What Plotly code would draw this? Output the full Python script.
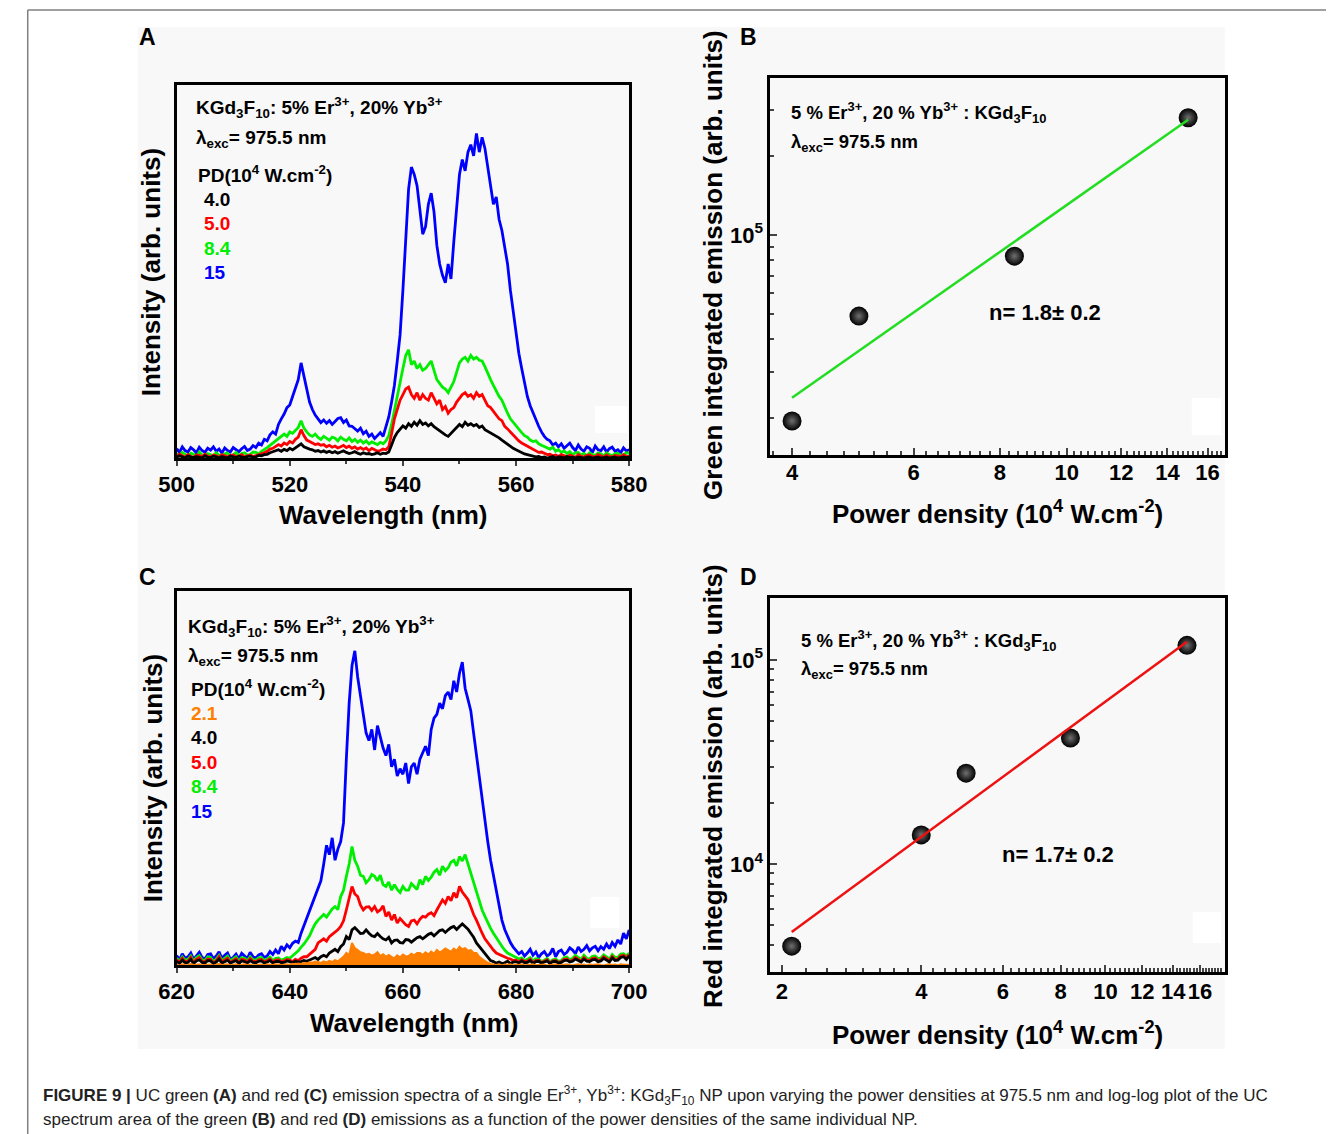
import numpy as np
import plotly.graph_objects as go

W, H = 1344, 1134

# ---------------- DATA ----------------
wl_A = np.arange(500.0, 580.01, 0.5)
wl_C = np.arange(620.0, 700.01, 0.5)

green_blue_15 = [
    2.5,1.5,3.0,2.0,1.6,2.8,2.2,1.4,2.9,2.0,1.5,2.6,2.1,3.0,1.8,2.4,1.3,2.7,2.0,1.6,
    2.8,2.2,1.7,2.5,3.1,2.0,2.4,3.3,2.8,4.0,3.5,5.0,4.6,6.2,7.0,6.4,9.0,10.5,11.8,13.5,
    14.2,16.5,18.5,21.0,25.5,22.0,18.0,15.0,13.0,11.5,10.5,9.5,10.2,9.3,10.0,9.0,9.8,10.6,10.8,9.5,
    10.2,8.6,8.5,7.8,7.2,8.0,6.5,7.2,5.8,6.4,5.2,6.0,6.8,5.8,8.5,11.0,15.0,19.5,26.0,33.0,
    45.0,58.0,72.0,78.0,76.0,73.0,67.0,60.0,62.0,68.0,71.0,66.0,57.0,52.0,49.0,47.0,52.0,48.0,58.0,68.0,
    76.0,80.0,77.0,82.0,84.0,81.0,87.0,82.0,86.0,83.0,78.0,73.0,68.0,70.0,64.0,61.0,57.0,52.0,45.0,39.0,
    33.0,28.0,24.0,20.0,16.5,14.0,12.0,10.0,8.5,7.0,5.8,5.0,4.6,3.5,4.0,3.0,3.8,2.6,3.2,4.0,
    2.8,2.0,3.5,2.4,1.8,3.0,2.6,1.5,3.2,2.2,2.0,3.0,1.6,2.5,2.9,1.8,2.2,1.4,2.7,1.9,
    2.2]
green_green_84 = [
    1.2,0.6,1.5,0.9,0.5,1.3,1.0,0.4,1.6,0.8,0.5,1.2,1.0,0.6,1.4,0.7,0.6,1.1,1.3,0.5,
    0.8,1.5,0.6,1.2,1.4,0.8,0.9,1.6,1.5,1.0,1.8,2.2,2.8,3.4,4.0,4.8,5.2,6.0,6.4,5.8,
    7.0,6.6,7.5,8.2,10.0,8.0,7.0,6.2,5.8,6.4,5.5,5.0,5.8,5.2,4.8,5.6,5.3,4.6,5.6,5.0,
    4.6,5.4,4.4,5.0,4.2,4.8,4.0,4.6,3.8,4.3,4.0,3.6,4.2,3.8,4.6,6.0,9.0,13.0,17.0,21.0,
    24.0,27.5,29.0,25.0,26.0,24.0,25.0,23.5,24.0,25.0,26.0,23.5,21.0,20.0,19.0,18.5,17.5,19.0,20.5,23.0,
    25.5,26.5,27.0,26.0,27.5,26.5,27.0,26.2,26.0,24.5,22.5,21.0,19.5,18.0,16.5,15.5,13.5,12.0,10.5,9.5,
    8.8,7.5,6.8,6.0,5.6,4.8,4.4,4.6,3.8,3.4,3.0,2.8,2.4,2.9,1.8,2.2,1.5,1.9,1.2,1.7,
    0.9,1.4,1.5,0.8,1.2,0.6,1.4,0.9,0.7,1.3,1.1,0.5,1.4,0.9,0.6,1.2,1.3,0.7,0.9,1.4,
    1.2]
green_red_50 = [
    0.4,1.0,0.6,0.2,0.9,0.4,0.2,0.8,0.7,0.3,1.0,0.5,0.3,0.8,0.6,0.2,0.9,0.5,0.3,0.7,
    0.8,0.4,0.5,0.9,0.3,0.6,0.8,0.4,0.6,1.0,1.0,1.4,1.8,2.4,2.6,3.2,3.6,3.2,4.0,3.6,
    4.4,4.0,5.0,5.6,7.6,6.0,4.8,4.4,4.0,3.6,3.8,3.4,3.6,3.0,3.4,2.9,3.2,2.7,3.0,3.4,
    2.8,3.2,2.6,3.0,2.4,2.8,2.3,2.7,2.0,2.6,2.2,1.8,2.0,2.4,2.2,3.0,6.5,10.5,13.0,15.5,
    17.0,18.5,19.0,17.0,16.0,17.5,15.5,17.0,16.0,15.5,17.5,16.0,14.5,15.5,13.0,13.8,12.0,13.0,13.5,15.0,
    16.0,17.0,17.5,16.5,17.0,16.0,17.5,16.5,17.0,15.5,14.0,13.5,12.5,11.5,10.5,10.0,8.5,7.8,7.0,6.2,
    5.2,4.6,4.0,3.6,3.2,2.6,2.2,1.8,1.5,1.6,1.2,0.9,1.0,0.6,0.8,0.4,0.9,0.5,0.3,0.8,
    0.6,0.2,0.9,0.4,0.3,0.7,0.8,0.4,0.3,0.9,0.6,0.2,0.8,0.4,0.3,0.7,0.6,0.3,0.9,0.5,
    0.4]
green_black_40 = [
    0.2,0.6,0.3,0.0,0.5,0.2,0.1,0.4,0.3,0.0,0.6,0.2,0.1,0.5,0.3,0.0,0.4,0.2,0.0,0.5,
    0.3,0.1,0.5,0.2,0.1,0.4,0.5,0.2,0.3,0.7,0.6,0.9,1.0,1.4,1.6,2.0,2.2,1.8,2.3,2.0,
    2.6,2.2,2.8,3.2,3.8,3.0,2.6,2.4,2.2,1.8,2.0,1.6,1.9,1.5,1.8,1.4,1.7,1.3,1.6,1.9,
    1.5,1.2,1.4,1.7,1.3,1.0,1.4,1.1,1.2,0.9,1.1,1.4,1.0,1.3,1.2,1.6,3.5,5.5,6.8,7.8,
    8.6,8.0,9.2,8.5,9.6,8.8,10.0,9.0,9.4,8.6,9.2,8.4,7.8,7.2,6.8,6.2,5.8,6.6,7.4,8.2,
    9.0,8.4,9.6,8.8,9.2,8.6,9.0,8.2,8.6,7.6,7.2,6.8,6.4,5.8,5.4,4.8,4.2,3.8,3.2,2.6,
    2.2,1.8,1.4,1.1,0.9,0.6,0.5,0.3,0.4,0.1,0.3,0.0,0.2,0.4,0.0,0.3,0.2,0.0,0.4,0.1,
    0.2,0.0,0.3,0.1,0.0,0.2,0.3,0.0,0.1,0.3,0.0,0.2,0.3,0.0,0.1,0.3,0.0,0.2,0.3,0.1,
    0.2]

red_blue_15 = [
    2.5,1.4,3.0,1.8,2.2,3.2,1.5,2.6,3.4,2.0,1.6,2.8,3.0,1.7,2.4,3.5,1.8,2.6,3.2,1.5,
    2.0,2.9,1.6,3.1,2.5,1.7,3.4,2.2,1.8,2.7,3.0,2.0,2.4,3.6,2.8,4.0,3.0,5.0,4.0,5.4,
    4.6,5.8,6.4,6.0,8.5,10.5,12.0,14.0,16.0,18.0,20.0,22.5,27.0,32.0,29.5,34.0,28.0,31.0,33.0,38.0,
    55.0,70.0,80.0,84.0,77.0,72.0,66.0,62.0,60.0,63.0,57.5,64.0,61.0,58.0,56.0,59.0,53.0,55.0,50.5,52.5,
    51.0,54.0,48.5,53.0,54.0,51.0,55.0,57.0,58.5,56.0,63.0,66.0,67.0,70.0,68.5,72.0,73.0,71.0,76.0,73.0,
    78.0,81.0,74.0,71.0,68.0,62.0,56.0,50.0,44.0,38.0,33.0,28.0,24.0,19.5,15.5,12.0,9.5,7.5,6.0,4.8,
    4.0,3.0,3.6,2.4,3.2,4.2,2.6,3.5,2.0,3.0,3.6,2.4,3.0,4.4,2.2,3.6,4.0,2.8,3.4,4.6,
    4.0,3.0,4.8,3.6,4.2,5.2,3.8,4.6,5.0,3.8,4.9,4.2,5.6,4.4,6.0,5.0,6.7,5.6,8.5,7.0,
    9.4]
red_green_84 = [
    1.8,1.0,2.2,1.3,1.5,2.4,1.0,2.0,2.5,1.4,1.2,2.2,2.0,1.0,1.6,2.6,1.2,1.9,2.4,1.1,
    1.6,2.2,1.0,2.0,1.8,1.2,2.2,1.4,1.3,1.9,2.0,1.2,1.6,2.1,1.2,1.8,1.9,1.3,1.6,2.0,
    1.8,2.4,3.2,3.8,4.8,5.6,6.7,7.8,9.5,11.0,12.0,12.8,13.5,12.8,14.0,15.0,15.6,14.8,18.3,20.0,
    23.7,27.0,31.7,28.0,26.4,24.0,23.7,22.0,22.8,24.2,23.7,22.5,24.0,21.5,21.0,22.2,20.0,21.5,20.2,19.4,
    21.0,20.0,20.0,21.8,21.0,20.2,22.8,21.5,23.7,22.6,23.5,24.8,25.5,24.0,26.4,25.2,26.0,27.5,28.0,26.5,
    29.0,27.8,29.5,27.0,24.6,22.0,19.2,17.0,14.7,13.0,11.2,9.8,8.5,7.2,5.9,5.0,4.0,3.2,2.8,2.4,
    2.2,1.6,1.9,1.2,1.5,2.0,1.1,1.7,1.6,0.9,1.3,1.8,0.8,1.4,1.6,1.0,1.2,1.9,2.1,1.4,
    1.8,2.6,2.0,1.5,2.6,1.8,1.6,2.3,2.4,1.7,1.9,2.7,2.2,1.6,2.8,2.0,2.1,2.9,3.0,2.4,
    3.2]
red_red_50 = [
    1.4,0.7,1.8,0.9,1.0,2.0,0.6,1.5,2.0,1.0,0.8,1.6,1.5,0.6,1.1,2.2,0.8,1.4,1.8,0.7,
    1.2,1.7,0.6,1.5,1.3,0.8,1.7,1.0,0.9,1.4,1.5,0.8,1.2,1.6,0.8,1.3,1.4,0.9,1.1,1.5,
    1.3,0.9,1.5,1.2,1.8,2.2,2.2,2.8,3.4,4.2,5.9,6.4,7.0,6.4,7.6,8.2,8.8,9.4,10.3,11.8,
    14.7,17.5,21.0,19.0,18.3,16.0,14.7,15.5,15.6,14.6,15.6,14.2,14.7,15.8,13.0,14.2,12.0,13.5,11.2,12.4,
    11.6,10.8,10.3,11.8,12.0,11.0,12.2,13.0,12.8,13.6,14.0,13.2,14.7,16.0,17.4,16.5,18.3,17.2,19.3,18.0,
    21.0,19.5,18.5,17.5,15.6,13.5,12.0,10.0,8.5,7.0,5.9,4.8,4.0,3.2,2.8,2.5,2.2,1.8,1.6,1.2,
    1.3,0.8,1.4,0.9,1.0,1.5,0.7,1.2,1.3,0.6,1.0,1.4,0.5,1.1,1.2,0.7,0.9,1.5,1.6,1.0,
    1.3,2.0,1.5,1.0,2.0,1.3,1.2,1.8,1.9,1.2,1.4,2.2,1.7,1.1,2.3,1.5,1.6,2.4,2.6,1.9,
    2.8]
red_black_40 = [
    1.0,0.4,1.3,0.6,0.7,1.5,0.4,1.1,1.4,0.7,0.5,1.2,1.1,0.4,0.8,1.6,0.5,1.0,1.3,0.5,
    0.9,1.2,0.4,1.1,0.9,0.5,1.2,0.7,0.6,1.0,1.1,0.5,0.8,1.2,0.5,0.9,1.0,0.6,0.7,1.1,
    0.9,0.6,1.0,0.8,0.9,1.2,1.0,1.4,1.6,2.0,1.5,2.2,2.6,2.2,3.2,3.8,4.2,3.6,4.9,5.6,
    7.6,6.8,9.4,10.0,9.2,8.4,8.5,9.4,8.5,7.8,7.6,8.4,7.6,7.0,6.7,7.4,5.9,6.6,6.7,6.0,
    5.9,6.8,6.7,6.1,6.7,7.3,7.6,7.0,7.6,8.2,8.5,7.8,8.5,9.2,9.4,8.7,9.4,10.0,10.3,9.5,
    10.3,11.0,10.3,9.6,8.5,7.4,5.9,5.0,4.0,3.0,2.0,1.2,0.9,0.5,0.8,0.4,0.6,1.0,0.4,0.8,
    0.9,0.5,1.1,0.6,0.7,1.2,0.4,0.9,1.0,0.5,0.8,1.1,0.4,0.9,1.0,0.5,0.7,1.2,1.3,0.8,
    1.0,1.6,1.2,0.8,1.6,1.0,0.9,1.4,1.5,0.9,1.1,1.8,1.3,0.8,1.9,1.2,1.3,2.0,2.2,1.5,
    2.4]
red_orange_21 = [
    0.1,-0.2,0.2,0.0,-0.1,0.3,0.0,0.1,0.2,-0.1,0.0,0.2,0.1,-0.2,0.1,0.3,0.0,0.1,0.2,-0.1,
    0.1,0.2,-0.1,0.1,0.2,0.0,0.1,-0.1,0.0,0.2,0.1,-0.1,0.2,0.1,0.0,0.2,0.1,0.0,0.1,0.2,
    0.0,0.3,0.2,0.4,0.3,0.5,0.4,0.7,0.6,0.9,0.8,0.5,1.0,0.7,1.1,0.8,1.3,1.0,1.6,2.2,
    3.2,2.6,5.9,4.5,4.0,3.4,3.2,2.8,3.0,2.5,2.8,3.4,2.4,2.9,2.2,2.7,2.2,1.8,2.6,2.0,
    2.8,2.3,2.4,3.0,2.6,3.2,3.2,2.7,3.4,2.8,3.6,3.0,4.0,3.4,3.8,4.4,4.0,3.5,4.4,3.8,
    4.9,4.2,4.5,3.8,4.0,3.2,3.2,2.2,1.6,1.0,0.6,0.3,0.1,0.0,0.2,-0.1,0.1,0.0,0.2,-0.1,
    0.1,0.0,0.2,-0.1,0.0,0.1,0.2,-0.1,0.0,0.2,0.1,-0.1,0.0,0.1,0.2,-0.1,0.0,0.1,0.2,0.0,
    -0.1,0.1,0.2,0.0,0.1,-0.1,0.2,0.0,0.1,0.2,0.0,-0.1,0.1,0.2,0.0,0.1,-0.1,0.2,0.1,0.0,
    0.1]

pd_green = [4.0, 5.0, 8.4, 15.0]
em_green = [1.95e4, 4.9e4, 8.3e4, 2.8e5]
fit_green_x = [4.0, 15.0]
fit_green_y = [2.39e4, 2.75e5]

pd_red = [2.1, 4.0, 5.0, 8.4, 15.0]
em_red = [3960, 1.39e4, 2.79e4, 4.15e4, 1.18e5]
fit_red_x = [2.1, 15.0]
fit_red_y = [4650, 1.23e5]

legend_A = ["4.0", "5.0", "8.4", "15"]
legend_C = ["2.1", "4.0", "5.0", "8.4", "15"]
ticks_B = [4, 6, 8, 10, 12, 14, 16]
ticks_D = [2, 4, 6, 8, 10, 12, 14, 16]

# ---------------- STYLE ----------------
BLUE, RED, GREEN, BLACK, ORANGE = "#0000ff", "#ff0000", "#00ee00", "#000000", "#ff7f00"
FIT_GREEN, FIT_RED = "#22dd22", "#ee1111"
SPEC_W = 2.8


def px(x0, x1):
    return [x0 / W, x1 / W]


def py(y_top, y_bot):
    return [1 - y_bot / H, 1 - y_top / H]


fig = go.Figure()

for vals, col in [(green_blue_15, BLUE), (green_green_84, GREEN), (green_red_50, RED), (green_black_40, BLACK)]:
    fig.add_trace(go.Scatter(x=wl_A, y=vals, mode="lines", line=dict(color=col, width=SPEC_W),
                             xaxis="x", yaxis="y", showlegend=False))
for vals, col in [(red_blue_15, BLUE), (red_green_84, GREEN), (red_red_50, RED), (red_black_40, BLACK)]:
    fig.add_trace(go.Scatter(x=wl_C, y=vals, mode="lines", line=dict(color=col, width=SPEC_W),
                             xaxis="x3", yaxis="y3", showlegend=False))
fig.add_trace(go.Scatter(x=wl_C, y=red_orange_21, mode="lines", line=dict(color=ORANGE, width=2),
                         fill="tozeroy", fillcolor=ORANGE, xaxis="x3", yaxis="y3", showlegend=False))

marker_style = dict(size=19, color="black", gradient=dict(type="radial", color="#707070"),
                    line=dict(width=0))
fig.add_trace(go.Scatter(x=pd_green, y=em_green, mode="markers", marker=marker_style,
                         xaxis="x2", yaxis="y2", showlegend=False))
fig.add_trace(go.Scatter(x=fit_green_x, y=fit_green_y, mode="lines", line=dict(color=FIT_GREEN, width=2.5),
                         xaxis="x2", yaxis="y2", showlegend=False))
fig.add_trace(go.Scatter(x=pd_red, y=em_red, mode="markers", marker=marker_style,
                         xaxis="x4", yaxis="y4", showlegend=False))
fig.add_trace(go.Scatter(x=fit_red_x, y=fit_red_y, mode="lines", line=dict(color=FIT_RED, width=2.5),
                         xaxis="x4", yaxis="y4", showlegend=False))

tickfont = dict(family="Arial", size=22, color="black", weight="bold")
frame = dict(showline=True, linewidth=2.5, linecolor="black", mirror=True, showgrid=False,
             zeroline=False, tickangle=0)

minor_B = [v for v in np.arange(3.75, 17.0, 0.25) if v not in ticks_B]
minor_D = [v for v in np.arange(2.0, 18.0, 0.25) if v not in ticks_D]
minor_By = [2e4, 3e4, 4e4, 5e4, 6e4, 7e4, 8e4, 9e4, 2e5, 3e5]
minor_Dy = [4e3, 5e3, 6e3, 7e3, 8e3, 9e3, 2e4, 3e4, 4e4, 5e4, 6e4, 7e4, 8e4, 9e4, 2e5]

layout_axes = dict(
    xaxis=dict(**frame, domain=px(163, 628), anchor="y", range=[500, 580],
               tickvals=[500, 520, 540, 560, 580], ticks="outside", ticklen=5, tickwidth=2,
               minor=dict(tickvals=[510, 530, 550, 570], ticks="outside", ticklen=3, tickwidth=2),
               tickfont=tickfont, ticklabelstandoff=0),
    yaxis=dict(**frame, domain=py(85, 458), anchor="x", range=[0, 100], showticklabels=False, ticks=""),
    xaxis3=dict(**frame, domain=px(163, 628), anchor="y3", range=[620, 700],
                tickvals=[620, 640, 660, 680, 700], ticks="outside", ticklen=5, tickwidth=2,
                minor=dict(tickvals=[630, 650, 670, 690], ticks="outside", ticklen=3, tickwidth=2),
                tickfont=tickfont, ticklabelstandoff=0),
    yaxis3=dict(**frame, domain=py(591, 965), anchor="x3", range=[0, 100], showticklabels=False, ticks=""),
    xaxis2=dict(**frame, domain=px(773, 1240), anchor="y2", type="log",
                range=[np.log10(3.72), np.log10(16.95)],
                tickvals=ticks_B, ticktext=[str(t) for t in ticks_B], ticks="inside", ticklen=7, tickwidth=2,
                minor=dict(tickvals=minor_B, ticks="inside", ticklen=4, tickwidth=1.5),
                tickfont=tickfont, ticklabelstandoff=-4),
    yaxis2=dict(**frame, domain=py(78, 455), anchor="x2", type="log", range=[4.160, 5.599],
                tickvals=[1e5], ticktext=["10<sup>5</sup>"], ticks="inside", ticklen=7, tickwidth=2,
                minor=dict(tickvals=minor_By, ticks="inside", ticklen=4, tickwidth=1.5),
                tickfont=tickfont, ticklabelstandoff=0),
    xaxis4=dict(**frame, domain=px(773, 1240), anchor="y4", type="log",
                range=[np.log10(1.888), np.log10(18.1)],
                tickvals=ticks_D, ticktext=[str(t) for t in ticks_D], ticks="inside", ticklen=7, tickwidth=2,
                minor=dict(tickvals=minor_D, ticks="inside", ticklen=4, tickwidth=1.5),
                tickfont=tickfont, ticklabelstandoff=-2),
    yaxis4=dict(**frame, domain=py(598, 972), anchor="x4", type="log", range=[3.471, 5.304],
                tickvals=[1e4, 1e5], ticktext=["10<sup>4</sup>", "10<sup>5</sup>"], ticks="inside",
                ticklen=7, tickwidth=2,
                minor=dict(tickvals=minor_Dy, ticks="inside", ticklen=4, tickwidth=1.5),
                tickfont=tickfont, ticklabelstandoff=0),
)

annotations = []


def ann(text, x, y, size, color="black", xanchor="left", angle=0, bold=True, family="Arial"):
    annotations.append(dict(text=text, x=x / W, y=1 - y / H, xref="paper", yref="paper",
                            xanchor=xanchor, yanchor="middle", showarrow=False, textangle=angle,
                            font=dict(family=family, size=size, color=color,
                                      weight="bold" if bold else "normal")))


for lt, x, y in [("A", 133, 37), ("B", 751, 37), ("C", 133, 577), ("D", 751, 577)]:
    ann(lt, x, y, 23, xanchor="center")

ann("Wavelength (nm)", 375, 515, 26, xanchor="center")
ann("Intensity (arb. units)", 137, 272, 26, xanchor="center", angle=-90)
ann("Wavelength (nm)", 407, 1023, 26, xanchor="center")
ann("Intensity (arb. units)", 139, 778, 26, xanchor="center", angle=-90)
ann("Power density (10<sup>4</sup> W.cm<sup>-2</sup>)", 1006, 513, 26, xanchor="center")
ann("Green integrated emission (arb. units)", 714, 265, 26, xanchor="center", angle=-90)
ann("Power density (10<sup>4</sup> W.cm<sup>-2</sup>)", 1006, 1033, 26, xanchor="center")
ann("Red integrated emission (arb. units)", 714, 786, 26, xanchor="center", angle=-90)

comp = "KGd<sub>3</sub>F<sub>10</sub>: 5% Er<sup>3+</sup>, 20% Yb<sup>3+</sup>"
lam = "λ<sub>exc</sub>= 975.5 nm"
pdt = "PD(10<sup>4</sup> W.cm<sup>-2</sup>)"
ann(comp, 181, 107, 19)
ann(lam, 181, 139, 19)
ann(pdt, 183, 174, 19)
for lbl, col, y in zip(legend_A, [BLACK, RED, GREEN, BLUE], [199, 223, 248, 272]):
    ann(lbl, 189, y, 19, color=col)

ann(comp, 173, 626, 19)
ann(lam, 173, 657, 19)
ann(pdt, 176, 688, 19)
for lbl, col, y in zip(legend_C, [ORANGE, BLACK, RED, GREEN, BLUE], [713, 737, 762, 786, 811]):
    ann(lbl, 176, y, 19, color=col)

comp2 = "5 % Er<sup>3+</sup>, 20 % Yb<sup>3+</sup> : KGd<sub>3</sub>F<sub>10</sub>"
ann(comp2, 792, 112, 18.5)
ann(lam, 792, 143, 18.5)
ann("n= 1.8± 0.2", 996, 313, 22)
ann(comp2, 802, 640, 18.5)
ann(lam, 802, 670, 18.5)
ann("n= 1.7± 0.2", 1009, 854, 22)

cap1 = ("<b>FIGURE 9 |</b> UC green <b>(A)</b> and red <b>(C)</b> emission spectra of a single "
        "Er<sup>3+</sup>, Yb<sup>3+</sup>: KGd<sub>3</sub>F<sub>10</sub> NP upon varying the power "
        "densities at 975.5 nm and log-log plot of the UC")
cap2 = ("spectrum area of the green <b>(B)</b> and red <b>(D)</b> emissions as a function of the "
        "power densities of the same individual NP.")
ann(cap1, 24, 1095, 17, color="#222222", bold=False)
ann(cap2, 24, 1119, 17, color="#222222", bold=False)


def rect(x0, y0, x1, y1, fill, layer="below"):
    return dict(type="rect", xref="paper", yref="paper", x0=x0 / W, x1=x1 / W,
                y0=1 - y1 / H, y1=1 - y0 / H, fillcolor=fill, line=dict(width=0), layer=layer)


def pline(x0, y0, x1, y1, color, width):
    return dict(type="line", xref="paper", yref="paper", x0=x0 / W, x1=x1 / W,
                y0=1 - y0 / H, y1=1 - y1 / H, line=dict(color=color, width=width))


shapes = [
    rect(123, 27, 1240, 1049, "#f8f8f8"),
    rect(593, 406, 626, 433, "#ffffff"),
    rect(1206, 398, 1236, 435, "#ffffff"),
    rect(588, 897, 618, 928, "#ffffff"),
    rect(1207, 912, 1236, 943, "#ffffff"),
    pline(10, 10, W, 10, "#808080", 1.5),
    pline(10, 10, 10, H, "#808080", 1.5),
]

fig.update_layout(
    width=W, height=H, margin=dict(l=0, r=0, t=0, b=0), autosize=False,
    paper_bgcolor="white", plot_bgcolor="rgba(0,0,0,0)",
    font=dict(family="Arial", color="black"),
    showlegend=False, annotations=annotations, shapes=shapes,
    **layout_axes,
)

fig.write_html(
    "out.html",
    config={"responsive": False, "displayModeBar": False},
    post_script="document.body.style.margin='0px';document.body.style.padding='0px';"
                "document.body.style.overflow='hidden';",
)
